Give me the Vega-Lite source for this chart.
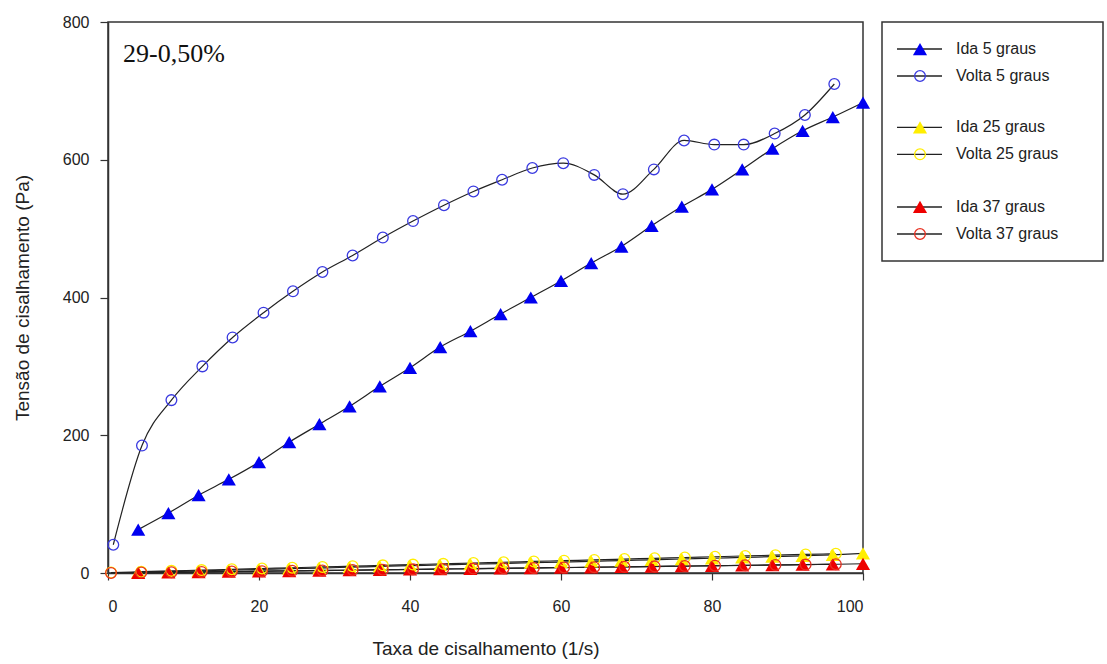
{
  "$schema": "https://vega.github.io/schema/vega-lite/v6.json",
  "background": "white",
  "padding": {"left": 12, "top": 13, "right": 2, "bottom": 2},
  "config": {
    "font": "Liberation Sans",
    "view": {"stroke": null},
    "concat": {"spacing": 10}
  },
  "datasets": {
    "medidas": [
      {"serie": "Ida 5 graus", "tipo": "Ida", "x": 4, "y": 63},
      {"serie": "Ida 5 graus", "tipo": "Ida", "x": 8, "y": 87},
      {"serie": "Ida 5 graus", "tipo": "Ida", "x": 12, "y": 113},
      {"serie": "Ida 5 graus", "tipo": "Ida", "x": 16, "y": 136},
      {"serie": "Ida 5 graus", "tipo": "Ida", "x": 20, "y": 161},
      {"serie": "Ida 5 graus", "tipo": "Ida", "x": 24, "y": 190},
      {"serie": "Ida 5 graus", "tipo": "Ida", "x": 28, "y": 216},
      {"serie": "Ida 5 graus", "tipo": "Ida", "x": 32, "y": 242},
      {"serie": "Ida 5 graus", "tipo": "Ida", "x": 36, "y": 271},
      {"serie": "Ida 5 graus", "tipo": "Ida", "x": 40, "y": 298},
      {"serie": "Ida 5 graus", "tipo": "Ida", "x": 44, "y": 328},
      {"serie": "Ida 5 graus", "tipo": "Ida", "x": 48, "y": 351},
      {"serie": "Ida 5 graus", "tipo": "Ida", "x": 52, "y": 376},
      {"serie": "Ida 5 graus", "tipo": "Ida", "x": 56, "y": 400},
      {"serie": "Ida 5 graus", "tipo": "Ida", "x": 60, "y": 424},
      {"serie": "Ida 5 graus", "tipo": "Ida", "x": 64, "y": 450},
      {"serie": "Ida 5 graus", "tipo": "Ida", "x": 68, "y": 474},
      {"serie": "Ida 5 graus", "tipo": "Ida", "x": 72, "y": 504},
      {"serie": "Ida 5 graus", "tipo": "Ida", "x": 76, "y": 532},
      {"serie": "Ida 5 graus", "tipo": "Ida", "x": 80, "y": 557},
      {"serie": "Ida 5 graus", "tipo": "Ida", "x": 84, "y": 586},
      {"serie": "Ida 5 graus", "tipo": "Ida", "x": 88, "y": 616},
      {"serie": "Ida 5 graus", "tipo": "Ida", "x": 92, "y": 642},
      {"serie": "Ida 5 graus", "tipo": "Ida", "x": 96, "y": 662},
      {"serie": "Ida 5 graus", "tipo": "Ida", "x": 100, "y": 683},

      {"serie": "Volta 5 graus", "tipo": "Volta", "x": 0.7, "y": 41},
      {"serie": "Volta 5 graus", "tipo": "Volta", "x": 4.5, "y": 185},
      {"serie": "Volta 5 graus", "tipo": "Volta", "x": 8.4, "y": 251},
      {"serie": "Volta 5 graus", "tipo": "Volta", "x": 12.5, "y": 300},
      {"serie": "Volta 5 graus", "tipo": "Volta", "x": 16.5, "y": 342},
      {"serie": "Volta 5 graus", "tipo": "Volta", "x": 20.6, "y": 378},
      {"serie": "Volta 5 graus", "tipo": "Volta", "x": 24.5, "y": 409},
      {"serie": "Volta 5 graus", "tipo": "Volta", "x": 28.4, "y": 437},
      {"serie": "Volta 5 graus", "tipo": "Volta", "x": 32.4, "y": 461},
      {"serie": "Volta 5 graus", "tipo": "Volta", "x": 36.4, "y": 487},
      {"serie": "Volta 5 graus", "tipo": "Volta", "x": 40.4, "y": 511},
      {"serie": "Volta 5 graus", "tipo": "Volta", "x": 44.5, "y": 534},
      {"serie": "Volta 5 graus", "tipo": "Volta", "x": 48.4, "y": 554},
      {"serie": "Volta 5 graus", "tipo": "Volta", "x": 52.2, "y": 571},
      {"serie": "Volta 5 graus", "tipo": "Volta", "x": 56.2, "y": 588},
      {"serie": "Volta 5 graus", "tipo": "Volta", "x": 60.3, "y": 595},
      {"serie": "Volta 5 graus", "tipo": "Volta", "x": 64.4, "y": 578},
      {"serie": "Volta 5 graus", "tipo": "Volta", "x": 68.2, "y": 550},
      {"serie": "Volta 5 graus", "tipo": "Volta", "x": 72.3, "y": 586},
      {"serie": "Volta 5 graus", "tipo": "Volta", "x": 76.3, "y": 628},
      {"serie": "Volta 5 graus", "tipo": "Volta", "x": 80.3, "y": 622},
      {"serie": "Volta 5 graus", "tipo": "Volta", "x": 84.2, "y": 622},
      {"serie": "Volta 5 graus", "tipo": "Volta", "x": 88.3, "y": 638},
      {"serie": "Volta 5 graus", "tipo": "Volta", "x": 92.3, "y": 665},
      {"serie": "Volta 5 graus", "tipo": "Volta", "x": 96.2, "y": 710},

      {"serie": "Ida 25 graus", "tipo": "Ida", "x": 4, "y": 1.2},
      {"serie": "Ida 25 graus", "tipo": "Ida", "x": 8, "y": 2.1},
      {"serie": "Ida 25 graus", "tipo": "Ida", "x": 12, "y": 3.0},
      {"serie": "Ida 25 graus", "tipo": "Ida", "x": 16, "y": 4.2},
      {"serie": "Ida 25 graus", "tipo": "Ida", "x": 20, "y": 5.1},
      {"serie": "Ida 25 graus", "tipo": "Ida", "x": 24, "y": 6.3},
      {"serie": "Ida 25 graus", "tipo": "Ida", "x": 28, "y": 7.2},
      {"serie": "Ida 25 graus", "tipo": "Ida", "x": 32, "y": 8.4},
      {"serie": "Ida 25 graus", "tipo": "Ida", "x": 36, "y": 9.5},
      {"serie": "Ida 25 graus", "tipo": "Ida", "x": 40, "y": 10.6},
      {"serie": "Ida 25 graus", "tipo": "Ida", "x": 44, "y": 11.6},
      {"serie": "Ida 25 graus", "tipo": "Ida", "x": 48, "y": 12.8},
      {"serie": "Ida 25 graus", "tipo": "Ida", "x": 52, "y": 13.7},
      {"serie": "Ida 25 graus", "tipo": "Ida", "x": 56, "y": 14.9},
      {"serie": "Ida 25 graus", "tipo": "Ida", "x": 60, "y": 15.8},
      {"serie": "Ida 25 graus", "tipo": "Ida", "x": 64, "y": 17.0},
      {"serie": "Ida 25 graus", "tipo": "Ida", "x": 68, "y": 18.1},
      {"serie": "Ida 25 graus", "tipo": "Ida", "x": 72, "y": 19.2},
      {"serie": "Ida 25 graus", "tipo": "Ida", "x": 76, "y": 20.3},
      {"serie": "Ida 25 graus", "tipo": "Ida", "x": 80, "y": 21.4},
      {"serie": "Ida 25 graus", "tipo": "Ida", "x": 84, "y": 22.6},
      {"serie": "Ida 25 graus", "tipo": "Ida", "x": 88, "y": 23.7},
      {"serie": "Ida 25 graus", "tipo": "Ida", "x": 92, "y": 25.0},
      {"serie": "Ida 25 graus", "tipo": "Ida", "x": 96, "y": 26.3},
      {"serie": "Ida 25 graus", "tipo": "Ida", "x": 100, "y": 28.4},

      {"serie": "Volta 25 graus", "tipo": "Volta", "x": 0.4, "y": 0.6},
      {"serie": "Volta 25 graus", "tipo": "Volta", "x": 4.4, "y": 1.9},
      {"serie": "Volta 25 graus", "tipo": "Volta", "x": 8.4, "y": 3.1},
      {"serie": "Volta 25 graus", "tipo": "Volta", "x": 12.4, "y": 4.2},
      {"serie": "Volta 25 graus", "tipo": "Volta", "x": 16.4, "y": 5.4},
      {"serie": "Volta 25 graus", "tipo": "Volta", "x": 20.4, "y": 6.5},
      {"serie": "Volta 25 graus", "tipo": "Volta", "x": 24.4, "y": 7.6},
      {"serie": "Volta 25 graus", "tipo": "Volta", "x": 28.4, "y": 8.8},
      {"serie": "Volta 25 graus", "tipo": "Volta", "x": 32.4, "y": 9.9},
      {"serie": "Volta 25 graus", "tipo": "Volta", "x": 36.4, "y": 11.1},
      {"serie": "Volta 25 graus", "tipo": "Volta", "x": 40.4, "y": 12.2},
      {"serie": "Volta 25 graus", "tipo": "Volta", "x": 44.4, "y": 13.3},
      {"serie": "Volta 25 graus", "tipo": "Volta", "x": 48.4, "y": 14.5},
      {"serie": "Volta 25 graus", "tipo": "Volta", "x": 52.4, "y": 15.6},
      {"serie": "Volta 25 graus", "tipo": "Volta", "x": 56.4, "y": 16.8},
      {"serie": "Volta 25 graus", "tipo": "Volta", "x": 60.4, "y": 17.9},
      {"serie": "Volta 25 graus", "tipo": "Volta", "x": 64.4, "y": 19.0},
      {"serie": "Volta 25 graus", "tipo": "Volta", "x": 68.4, "y": 20.2},
      {"serie": "Volta 25 graus", "tipo": "Volta", "x": 72.4, "y": 21.3},
      {"serie": "Volta 25 graus", "tipo": "Volta", "x": 76.4, "y": 22.5},
      {"serie": "Volta 25 graus", "tipo": "Volta", "x": 80.4, "y": 23.6},
      {"serie": "Volta 25 graus", "tipo": "Volta", "x": 84.4, "y": 24.8},
      {"serie": "Volta 25 graus", "tipo": "Volta", "x": 88.4, "y": 25.9},
      {"serie": "Volta 25 graus", "tipo": "Volta", "x": 92.4, "y": 27.0},
      {"serie": "Volta 25 graus", "tipo": "Volta", "x": 96.4, "y": 28.0},

      {"serie": "Ida 37 graus", "tipo": "Ida", "x": 4, "y": 0.3},
      {"serie": "Ida 37 graus", "tipo": "Ida", "x": 8, "y": 0.8},
      {"serie": "Ida 37 graus", "tipo": "Ida", "x": 12, "y": 1.3},
      {"serie": "Ida 37 graus", "tipo": "Ida", "x": 16, "y": 1.9},
      {"serie": "Ida 37 graus", "tipo": "Ida", "x": 20, "y": 2.4},
      {"serie": "Ida 37 graus", "tipo": "Ida", "x": 24, "y": 2.9},
      {"serie": "Ida 37 graus", "tipo": "Ida", "x": 28, "y": 3.5},
      {"serie": "Ida 37 graus", "tipo": "Ida", "x": 32, "y": 4.0},
      {"serie": "Ida 37 graus", "tipo": "Ida", "x": 36, "y": 4.5},
      {"serie": "Ida 37 graus", "tipo": "Ida", "x": 40, "y": 5.1},
      {"serie": "Ida 37 graus", "tipo": "Ida", "x": 44, "y": 5.6},
      {"serie": "Ida 37 graus", "tipo": "Ida", "x": 48, "y": 6.1},
      {"serie": "Ida 37 graus", "tipo": "Ida", "x": 52, "y": 6.7},
      {"serie": "Ida 37 graus", "tipo": "Ida", "x": 56, "y": 7.2},
      {"serie": "Ida 37 graus", "tipo": "Ida", "x": 60, "y": 7.7},
      {"serie": "Ida 37 graus", "tipo": "Ida", "x": 64, "y": 8.3},
      {"serie": "Ida 37 graus", "tipo": "Ida", "x": 68, "y": 8.8},
      {"serie": "Ida 37 graus", "tipo": "Ida", "x": 72, "y": 9.3},
      {"serie": "Ida 37 graus", "tipo": "Ida", "x": 76, "y": 9.9},
      {"serie": "Ida 37 graus", "tipo": "Ida", "x": 80, "y": 10.4},
      {"serie": "Ida 37 graus", "tipo": "Ida", "x": 84, "y": 11.0},
      {"serie": "Ida 37 graus", "tipo": "Ida", "x": 88, "y": 11.5},
      {"serie": "Ida 37 graus", "tipo": "Ida", "x": 92, "y": 12.1},
      {"serie": "Ida 37 graus", "tipo": "Ida", "x": 96, "y": 12.6},
      {"serie": "Ida 37 graus", "tipo": "Ida", "x": 100, "y": 13.4},

      {"serie": "Volta 37 graus", "tipo": "Volta", "x": 0.4, "y": 0.1},
      {"serie": "Volta 37 graus", "tipo": "Volta", "x": 4.4, "y": 0.6},
      {"serie": "Volta 37 graus", "tipo": "Volta", "x": 8.4, "y": 1.1},
      {"serie": "Volta 37 graus", "tipo": "Volta", "x": 12.4, "y": 1.6},
      {"serie": "Volta 37 graus", "tipo": "Volta", "x": 16.4, "y": 2.2},
      {"serie": "Volta 37 graus", "tipo": "Volta", "x": 20.4, "y": 2.7},
      {"serie": "Volta 37 graus", "tipo": "Volta", "x": 24.4, "y": 3.2},
      {"serie": "Volta 37 graus", "tipo": "Volta", "x": 28.4, "y": 3.7},
      {"serie": "Volta 37 graus", "tipo": "Volta", "x": 32.4, "y": 4.3},
      {"serie": "Volta 37 graus", "tipo": "Volta", "x": 36.4, "y": 4.8},
      {"serie": "Volta 37 graus", "tipo": "Volta", "x": 40.4, "y": 5.3},
      {"serie": "Volta 37 graus", "tipo": "Volta", "x": 44.4, "y": 5.9},
      {"serie": "Volta 37 graus", "tipo": "Volta", "x": 48.4, "y": 6.4},
      {"serie": "Volta 37 graus", "tipo": "Volta", "x": 52.4, "y": 6.9},
      {"serie": "Volta 37 graus", "tipo": "Volta", "x": 56.4, "y": 7.4},
      {"serie": "Volta 37 graus", "tipo": "Volta", "x": 60.4, "y": 8.0},
      {"serie": "Volta 37 graus", "tipo": "Volta", "x": 64.4, "y": 8.5},
      {"serie": "Volta 37 graus", "tipo": "Volta", "x": 68.4, "y": 9.0},
      {"serie": "Volta 37 graus", "tipo": "Volta", "x": 72.4, "y": 9.6},
      {"serie": "Volta 37 graus", "tipo": "Volta", "x": 76.4, "y": 10.1},
      {"serie": "Volta 37 graus", "tipo": "Volta", "x": 80.4, "y": 10.6},
      {"serie": "Volta 37 graus", "tipo": "Volta", "x": 84.4, "y": 11.2},
      {"serie": "Volta 37 graus", "tipo": "Volta", "x": 88.4, "y": 11.7},
      {"serie": "Volta 37 graus", "tipo": "Volta", "x": 92.4, "y": 12.2},
      {"serie": "Volta 37 graus", "tipo": "Volta", "x": 96.4, "y": 12.8}
    ],
    "legenda": [
      {"serie": "Ida 5 graus", "tipo": "Ida", "ordem": 1},
      {"serie": "Volta 5 graus", "tipo": "Volta", "ordem": 2},
      {"serie": "Ida 25 graus", "tipo": "Ida", "ordem": 3.9},
      {"serie": "Volta 25 graus", "tipo": "Volta", "ordem": 4.9},
      {"serie": "Ida 37 graus", "tipo": "Ida", "ordem": 6.85},
      {"serie": "Volta 37 graus", "tipo": "Volta", "ordem": 7.85}
    ],
    "amostra": [
      {"rotulo": "29-0,50%", "x": 2, "y": 742}
    ]
  },
  "hconcat": [
    {
      "width": 755,
      "height": 551,
      "view": {"stroke": "#333", "strokeWidth": 1.5},
      "encoding": {
        "x": {
          "field": "x",
          "type": "quantitative",
          "scale": {"domain": [0, 100], "nice": false, "zero": false},
          "axis": {
            "title": "Taxa de cisalhamento (1/s)",
            "values": [0, 20, 40, 60, 80, 100],
            "grid": false,
            "domainColor": "#333",
            "domainWidth": 1.5,
            "tickColor": "#333",
            "tickSize": 7,
            "tickWidth": 1.2,
            "labelFontSize": 16,
            "labelColor": "#222",
            "labelPadding": 18,
            "titleFontSize": 19,
            "titleFontWeight": "normal",
            "titleColor": "#222",
            "titlePadding": 25
          }
        },
        "y": {
          "field": "y",
          "type": "quantitative",
          "scale": {"domain": [0, 800], "nice": false},
          "axis": {
            "title": "Tensão de cisalhamento (Pa)",
            "values": [0, 200, 400, 600, 800],
            "grid": false,
            "domainColor": "#333",
            "domainWidth": 1.5,
            "tickColor": "#333",
            "tickSize": 8,
            "tickWidth": 1.2,
            "labelFontSize": 16,
            "labelColor": "#222",
            "labelPadding": 11,
            "titleFontSize": 19,
            "titleFontWeight": "normal",
            "titleColor": "#222",
            "titlePadding": 30
          }
        }
      },
      "layer": [
        {
          "data": {"name": "medidas"},
          "mark": {"type": "line", "interpolate": "monotone", "color": "#222", "strokeWidth": 1.2},
          "encoding": {"detail": {"field": "serie"}}
        },
        {
          "data": {"name": "medidas"},
          "transform": [{"filter": "datum.tipo === 'Ida'"}],
          "mark": {"type": "point", "shape": "triangle-up", "filled": true, "size": 200, "opacity": 1},
          "encoding": {
            "color": {
              "field": "serie",
              "type": "nominal",
              "legend": null,
              "scale": {
                "domain": ["Ida 5 graus", "Volta 5 graus", "Ida 25 graus", "Volta 25 graus", "Ida 37 graus", "Volta 37 graus"],
                "range": ["#0000f0", "#3a3ae0", "#ffee00", "#ffee00", "#ee0000", "#e83020"]
              }
            }
          }
        },
        {
          "data": {"name": "medidas"},
          "transform": [{"filter": "datum.tipo === 'Volta'"}],
          "mark": {"type": "point", "shape": "circle", "filled": false, "size": 115, "strokeWidth": 1.3, "opacity": 1},
          "encoding": {
            "color": {
              "field": "serie",
              "type": "nominal",
              "legend": null,
              "scale": {
                "domain": ["Ida 5 graus", "Volta 5 graus", "Ida 25 graus", "Volta 25 graus", "Ida 37 graus", "Volta 37 graus"],
                "range": ["#0000f0", "#3a3ae0", "#ffee00", "#ffee00", "#ee0000", "#e83020"]
              }
            }
          }
        },
        {
          "data": {"name": "amostra"},
          "mark": {"type": "text", "align": "left", "baseline": "alphabetic", "font": "Liberation Serif", "fontSize": 26, "color": "#111"},
          "encoding": {
            "text": {"field": "rotulo", "type": "nominal"}
          }
        }
      ]
    },
    {
      "width": 221,
      "height": 239,
      "view": {"stroke": "#333", "strokeWidth": 1.5},
      "data": {"name": "legenda"},
      "encoding": {
        "y": {
          "field": "ordem",
          "type": "quantitative",
          "scale": {"domain": [0, 8.85], "reverse": true, "nice": false, "zero": false},
          "axis": null
        }
      },
      "layer": [
        {
          "mark": {"type": "rule", "color": "#222", "strokeWidth": 1.3},
          "encoding": {
            "x": {"datum": 15, "type": "quantitative", "scale": {"domain": [0, 221], "nice": false}, "axis": null},
            "x2": {"datum": 60}
          }
        },
        {
          "transform": [{"filter": "datum.tipo === 'Ida'"}],
          "mark": {"type": "point", "shape": "triangle-up", "filled": true, "size": 200, "opacity": 1},
          "encoding": {
            "x": {"datum": 38, "type": "quantitative", "scale": {"domain": [0, 221], "nice": false}, "axis": null},
            "color": {
              "field": "serie",
              "type": "nominal",
              "legend": null,
              "scale": {
                "domain": ["Ida 5 graus", "Volta 5 graus", "Ida 25 graus", "Volta 25 graus", "Ida 37 graus", "Volta 37 graus"],
                "range": ["#0000f0", "#3a3ae0", "#ffee00", "#ffee00", "#ee0000", "#e83020"]
              }
            }
          }
        },
        {
          "transform": [{"filter": "datum.tipo === 'Volta'"}],
          "mark": {"type": "point", "shape": "circle", "filled": false, "size": 115, "strokeWidth": 1.3, "opacity": 1},
          "encoding": {
            "x": {"datum": 38, "type": "quantitative", "scale": {"domain": [0, 221], "nice": false}, "axis": null},
            "color": {
              "field": "serie",
              "type": "nominal",
              "legend": null,
              "scale": {
                "domain": ["Ida 5 graus", "Volta 5 graus", "Ida 25 graus", "Volta 25 graus", "Ida 37 graus", "Volta 37 graus"],
                "range": ["#0000f0", "#3a3ae0", "#ffee00", "#ffee00", "#ee0000", "#e83020"]
              }
            }
          }
        },
        {
          "mark": {"type": "text", "align": "left", "baseline": "middle", "fontSize": 16, "color": "#222", "font": "Liberation Sans"},
          "encoding": {
            "x": {"datum": 74, "type": "quantitative", "scale": {"domain": [0, 221], "nice": false}, "axis": null},
            "text": {"field": "serie"}
          }
        }
      ]
    }
  ]
}
